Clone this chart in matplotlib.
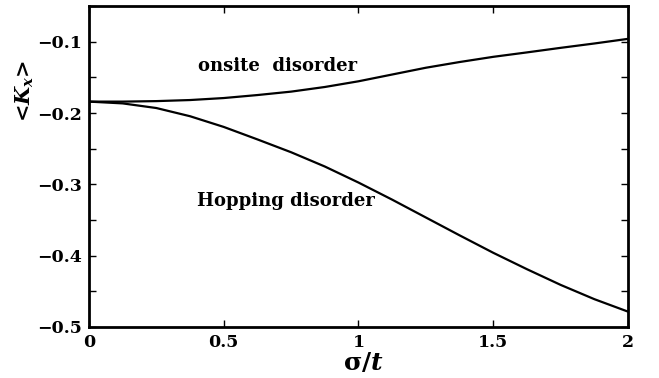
import matplotlib
matplotlib.use("Agg")
import matplotlib.pyplot as plt
from matplotlib.ticker import MultipleLocator, FuncFormatter

plt.rcParams['font.family'] = ['DejaVu Serif']
plt.rcParams['font.weight'] = 'bold'
plt.rcParams['mathtext.fontset'] = 'custom'
plt.rcParams['mathtext.rm'] = 'DejaVu Serif:bold'
plt.rcParams['mathtext.it'] = 'DejaVu Serif:italic:bold'
plt.rcParams['mathtext.bf'] = 'DejaVu Serif:bold'

# <K_x> versus disorder strength sigma/t
sigma = [0.0, 0.125, 0.25, 0.375, 0.5, 0.625, 0.75, 0.875, 1.0,
         1.125, 1.25, 1.375, 1.5, 1.625, 1.75, 1.875, 2.0]
kx_onsite = [-0.184, -0.1840, -0.1833, -0.1818, -0.1790, -0.1748, -0.1700,
             -0.1635, -0.1555, -0.1460, -0.1365, -0.1285, -0.1212,
             -0.1150, -0.1086, -0.1025, -0.0960]
kx_hopping = [-0.184, -0.1865, -0.1930, -0.2045, -0.2195, -0.2370, -0.2550,
              -0.2750, -0.2975, -0.3215, -0.3465, -0.3715, -0.3960,
              -0.4190, -0.4410, -0.4610, -0.4785]

xticks = [0, 0.5, 1, 1.5, 2]
xticklabels = ['0', '0.5', '1', '1.5', '2']
yticks = [-0.5, -0.4, -0.3, -0.2, -0.1]

fig = plt.figure(figsize=(6.59, 3.78), dpi=100)
ax = fig.add_axes([0.135, 0.135, 0.818, 0.849])

ax.plot(sigma, kx_onsite, color='black', lw=1.6)
ax.plot(sigma, kx_hopping, color='black', lw=1.6)

ax.text(0.70, -0.134, 'onsite  disorder', fontsize=13, fontweight='bold',
        ha='center', va='center')
ax.text(0.73, -0.323, 'Hopping disorder', fontsize=13, fontweight='bold',
        ha='center', va='center')

ax.set_xlim(0, 2)
ax.set_ylim(-0.5, -0.05)
ax.set_xticks(xticks)
ax.set_xticklabels(xticklabels)
ax.set_yticks(yticks)
ax.yaxis.set_minor_locator(MultipleLocator(0.05))
ax.yaxis.set_major_formatter(FuncFormatter(lambda v, p: ('\u2212%.1f' % abs(v)) if v < 0 else '%.1f' % v))

ax.tick_params(which='both', direction='in', top=True, right=True,
               labelsize=12.5, width=1.0)
ax.tick_params(which='major', length=5, pad=5)
ax.tick_params(which='minor', length=5)
for lbl in ax.get_xticklabels() + ax.get_yticklabels():
    lbl.set_fontweight('bold')
for s in ax.spines.values():
    s.set_linewidth(2.0)

ax.set_xlabel('σ/$t$', fontsize=18, fontweight='bold')
ax.xaxis.set_label_coords(0.51, -0.075)
ax.set_ylabel('<$K_x$>', fontsize=15, fontweight='bold')
ax.yaxis.set_label_coords(-0.098, 0.735)

fig.savefig('out.png', dpi=100)
